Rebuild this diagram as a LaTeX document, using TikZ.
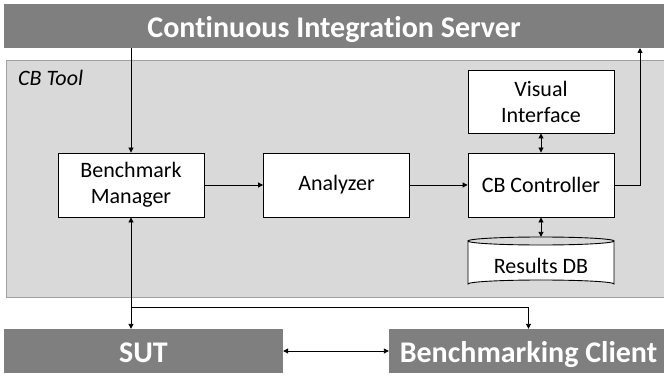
\documentclass[tikz,border=0pt]{standalone}
\usepackage{fontspec}
\setmainfont{Carlito}[Ligatures=NoCommon]
\usetikzlibrary{arrows.meta}
\definecolor{barfill}{HTML}{7F7F7F}
\definecolor{toolfill}{HTML}{D9D9D9}
\definecolor{toolline}{HTML}{A0A0A0}
\begin{document}
\begin{tikzpicture}[x=1pt,y=-1pt,
  bar/.style={fill=barfill, draw=none, text=white, font=\bfseries\fontsize{30}{34}\selectfont, inner sep=0pt, text height=23pt, text depth=0pt},
  toolbox/.style={fill=toolfill, draw=toolline, line width=1pt},
  compbox/.style={fill=white, draw=black, line width=0.9pt, minimum width=146pt, minimum height=64pt, align=center, inner sep=0pt, font=\fontsize{22}{26}\selectfont},
  arr/.style={line width=0.9pt, -{Triangle[length=5pt,width=5pt]}},
  darr/.style={line width=0.9pt, {Triangle[length=5pt,width=5pt]}-{Triangle[length=5pt,width=5pt]}}]
\useasboundingbox (0,0) rectangle (664,377);
\node[bar, minimum width=660pt, minimum height=44pt] (cis) at (334,26) {Continuous Integration Server};
\node[toolbox, minimum width=664pt, minimum height=236pt, inner sep=0pt] (cbt) at (338,179) {};
\node[anchor=west, font=\itshape\fontsize{22}{26}\selectfont, inner sep=0pt] (cbtl) at (18,78) {CB Tool};
\node[compbox] (bm) at (131,185) {Benchmark\\Manager};
\node[compbox] (an) at (336.5,185) {Analyzer};
\node[compbox] (cc) at (541,185) {CB Controller};
\node[compbox, minimum height=63pt] (vi) at (541,101.5) {Visual\\Interface};
% Results DB cylinder
\node[minimum width=146pt, minimum height=51pt, inner sep=0pt] (db) at (541,262.5) {};
\draw[fill=white, line width=0.9pt] (468,241) -- (468,284) arc[start angle=180, end angle=360, x radius=73, y radius=4] -- (614,241) arc[start angle=0, end angle=180, x radius=73, y radius=4] -- cycle;
\draw[line width=0.9pt] (468,241) arc[start angle=180, end angle=360, x radius=73, y radius=4];
\node[font=\fontsize{22}{26}\selectfont, inner sep=0pt] (dbl) at (541,266) {Results DB};
\node[bar, minimum width=279pt, minimum height=44pt] (sut) at (143.5,351) {SUT};
\node[bar, minimum width=279pt, minimum height=44pt] (bc) at (528.5,351) {Benchmarking Client};
\coordinate (up) at (640,48);
\coordinate (br) at (131,307);
\draw[arr] (cis.south -| bm.north) -- (bm.north);
\draw[arr] (bm.east) -- (an.west);
\draw[arr] (an.east) -- (cc.west);
\draw[darr] (vi.south) -- (cc.north);
\draw[darr] (cc.south) -- (db.north);
\draw[arr] (cc.east) -| (up);
\draw[darr] (bm.south) -- (bm.south |- sut.north);
\draw[arr] (br) -| (bc.north);
\draw[darr] (sut.east) -- (bc.west);
\end{tikzpicture}
\end{document}
